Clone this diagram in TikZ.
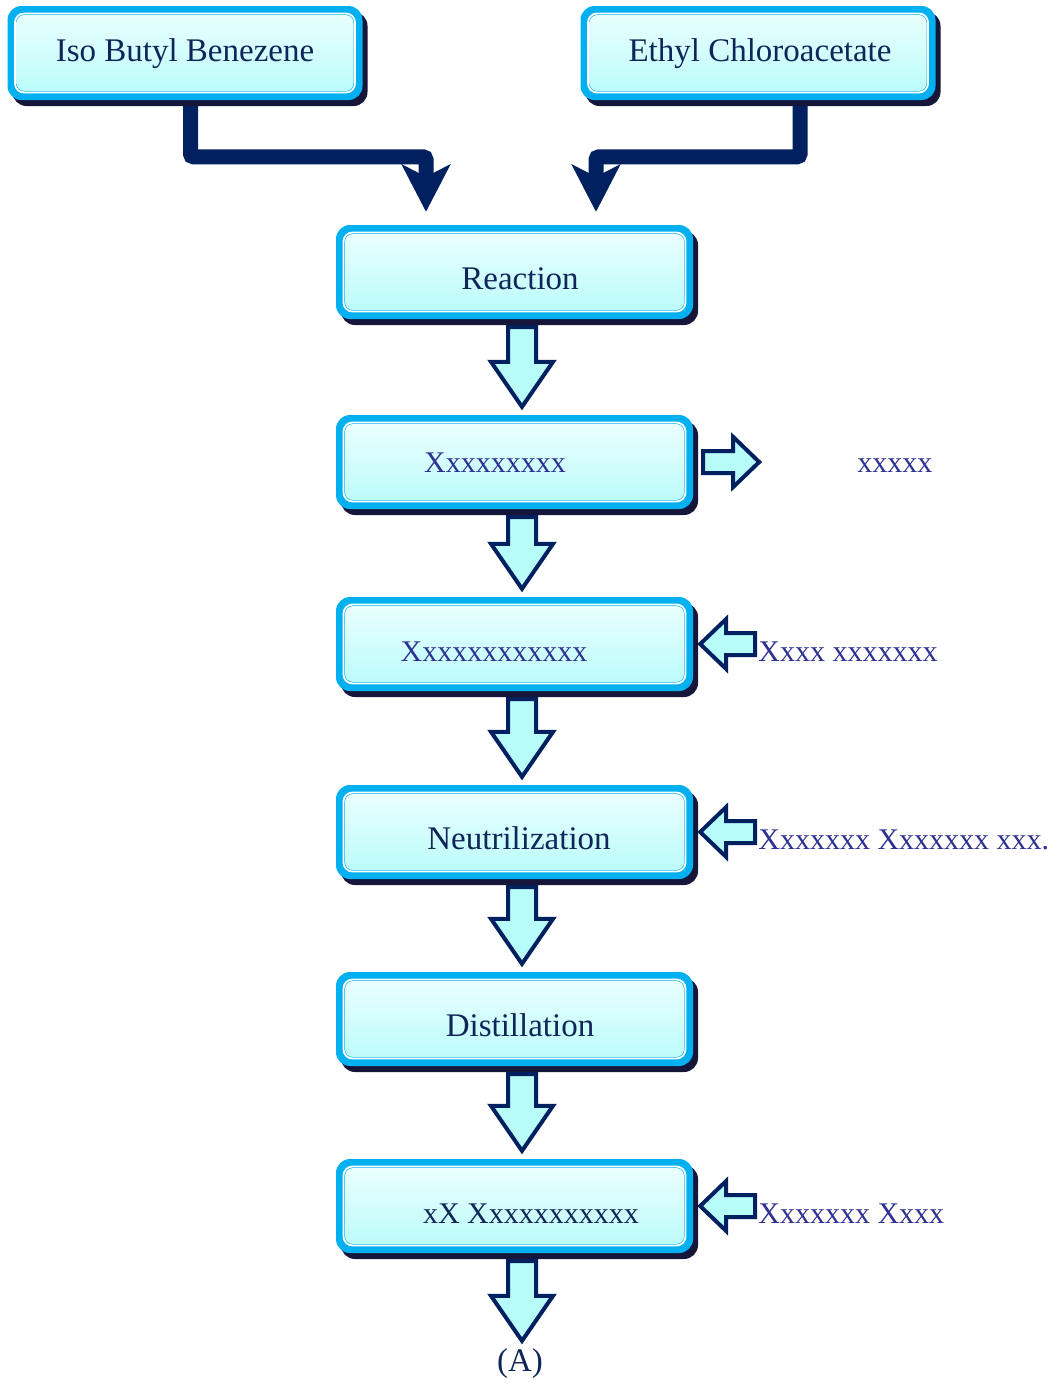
\documentclass[tikz,border=0pt]{standalone}
\usepackage{fontspec}
\setmainfont{Liberation Serif}
\usetikzlibrary{calc,shadows,arrows.meta}

\definecolor{boxcyan}{HTML}{00B0F0}
\definecolor{boxtop}{HTML}{EFFFFF}
\definecolor{boxbottom}{HTML}{B6FCFA}
\definecolor{boxshadow}{HTML}{15163A}
\definecolor{navyline}{HTML}{002060}
\definecolor{arrowfill}{HTML}{B8FCFA}
\definecolor{boxtext}{HTML}{102558}
\definecolor{sidetext}{HTML}{2E3192}

\newcommand{\namefont}{\fontsize{33}{38}\selectfont}
\newcommand{\codefont}{\fontsize{30}{36}\selectfont}

% block arrows between the steps
\newcommand{\flowdown}[2]{%
  \draw[blockarrow] let \p1=([xshift=7.5pt,yshift=-8pt]#1.south), \p2=([yshift=8pt]#2.north) in
    (\x1-14pt,\y1) -- (\x1+14pt,\y1) -- (\x1+14pt,\y2+45pt) -- (\x1+31pt,\y2+45pt)
    -- (\x1,\y2) -- (\x1-31pt,\y2+45pt) -- (\x1-14pt,\y2+45pt) -- cycle;}
\newcommand{\flowright}[2]{%
  \draw[blockarrow] let \p1=([xshift=10pt]#1.east), \p2=(#2) in
    (\x1,\y1+11pt) -- (\x2-26pt,\y1+11pt) -- (\x2-26pt,\y1+25pt) -- (\x2,\y1)
    -- (\x2-26pt,\y1-25pt) -- (\x2-26pt,\y1-11pt) -- (\x1,\y1-11pt) -- cycle;}
\newcommand{\flowleft}[2]{%
  \draw[blockarrow] let \p1=([xshift=-3pt]#1.west), \p2=([xshift=7pt]#2.east) in
    (\x1,\y2+11pt) -- (\x2+26pt,\y2+11pt) -- (\x2+26pt,\y2+25pt) -- (\x2,\y2)
    -- (\x2+26pt,\y2-25pt) -- (\x2+26pt,\y2-11pt) -- (\x1,\y2-11pt) -- cycle;}

\tikzset{
  flowbox/.style={rectangle, rounded corners=14pt, fill=boxcyan, inner sep=0pt,
      minimum width=355pt, minimum height=94pt,
      drop shadow={shadow xshift=5pt, shadow yshift=-6pt, fill=boxshadow, opacity=1},
      path picture={
        \shade[top color=boxtop, bottom color=boxbottom, rounded corners=8pt]
          ([shift={(9pt,-9pt)}]path picture bounding box.north west) rectangle
          ([shift={(-9pt,9pt)}]path picture bounding box.south east);
        \draw[white, line width=1.8pt, rounded corners=9pt]
          ([shift={(7.5pt,-7.5pt)}]path picture bounding box.north west) rectangle
          ([shift={(-7.5pt,7.5pt)}]path picture bounding box.south east);},
      text=boxtext, font=\namefont, text height=36pt, text depth=2pt},
  feedbox/.style={flowbox, text height=18pt},
  codebox/.style={flowbox, font=\codefont, text=sidetext},
  sidelabel/.style={anchor=west, inner sep=0pt, font=\codefont, text=sidetext,
      text height=36pt, text depth=2pt},
  blockarrow/.style={draw=navyline, fill=arrowfill, line width=4pt},
  elbow/.style={draw=navyline, line width=15pt, rounded corners=3pt,
      -{Stealth[length=47pt, width=48pt, inset=12pt]}},
}

\begin{document}
\begin{tikzpicture}[x=1pt, y=-1pt]
    \useasboundingbox (0,0) rectangle (1054,1385);
    \fill[white] (0,0) rectangle (1054,1385);

    % Raw materials
    \node[feedbox] (iso) at (185,53) {Iso Butyl Benezene};
    \node[feedbox] (eth) at (758,53) {\hspace*{4pt}Ethyl Chloroacetate};

    % Process steps
    \node[flowbox, minimum width=357pt] (rx) at (514.5,272) {\hspace*{11pt}Reaction};
    \node[codebox, minimum width=357pt, text height=22pt] (x1) at (514.5,462) {\hspace*{-39pt}Xxxxxxxxx};
    \node[codebox, minimum width=357pt] (x2) at (514.5,644) {\hspace*{-41pt}Xxxxxxxxxxxx};
    \node[flowbox, minimum width=357pt] (neu) at (514.5,832) {\hspace*{9pt}Neutrilization};
    \node[flowbox, minimum width=357pt] (dis) at (514.5,1019) {\hspace*{11pt}Distillation};
    \node[codebox, minimum width=357pt, text=boxtext] (x3) at (514.5,1206) {xX Xxxxxxxxxxx\hspace*{-33pt}};
    \node[font=\namefont, text=boxtext, inner sep=0pt] (a) at (520,1364) {(A)};

    % Side streams
    \node[sidelabel, text height=22pt] (l1) at ([xshift=164pt]x1.east) {xxxxx};
    \node[sidelabel] (l2) at ([xshift=65pt]x2.east) {Xxxx xxxxxxx};
    \node[sidelabel] (l3) at ([xshift=65pt]neu.east) {Xxxxxxx Xxxxxxx xxx.};
    \node[sidelabel] (l4) at ([xshift=65pt]x3.east) {Xxxxxxx Xxxx};
    \coordinate (t1) at ([xshift=66pt]x1.east);

    % Feed arrows
    \draw[elbow] ([xshift=5.5pt,yshift=-6pt]iso.south) |- ([xshift=-88.5pt,yshift=68pt]rx.north)
        -- ([xshift=-88.5pt,yshift=13pt]rx.north);
    \draw[elbow] ([xshift=42pt,yshift=-6pt]eth.south) |- ([xshift=81.5pt,yshift=68pt]rx.north)
        -- ([xshift=81.5pt,yshift=13pt]rx.north);

    % Main flow
    \flowdown{rx}{x1}
    \flowdown{x1}{x2}
    \flowdown{x2}{neu}
    \flowdown{neu}{dis}
    \flowdown{dis}{x3}
    \flowdown{x3}{a}

    % Side arrows
    \flowright{x1}{t1}
    \flowleft{l2}{x2}
    \flowleft{l3}{neu}
    \flowleft{l4}{x3}

\end{tikzpicture}
\end{document}
